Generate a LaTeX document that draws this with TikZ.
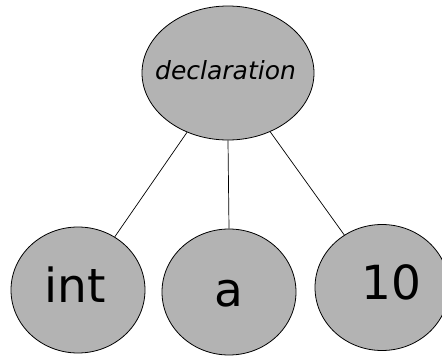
\documentclass[tikz,border=0pt]{standalone}
\usepackage{fontspec}
\setmainfont{DejaVu Sans}
\usetikzlibrary{shapes.geometric}
\definecolor{nodegrey}{HTML}{B3B3B3}
\tikzset{
  treenode/.style={ellipse, draw=black, line width=0.8pt, fill=nodegrey, inner sep=0pt},
  leaf/.style={treenode, minimum width=134pt, minimum height=126pt},
  label/.style={anchor=base, inner sep=0pt},
  edge/.style={draw=black, line width=0.7pt}
}
\begin{document}
\begin{tikzpicture}[x=1pt, y=-1pt]
  \useasboundingbox (0,0) rectangle (442,356);
  % tree nodes
  \node[treenode, minimum width=172pt, minimum height=134pt] (decl) at (228,73) {};
  \node[leaf] (int) at (78,290) {};
  \node[leaf] (a) at (229,292) {};
  \node[leaf] (ten) at (382,287.5) {};
  % edges from the root to each leaf
  \draw[edge] (decl) -- (int);
  \draw[edge] (decl.south) -- (a.north);
  \draw[edge] (decl) -- (ten);
  % labels
  \node[label, font=\fontsize{25}{30}\selectfont\itshape] (tdecl) at (225.5,79) {declaration};
  \node[label, font=\fontsize{47}{56}\selectfont] (tint) at (75,302) {int};
  \node[label, font=\fontsize{47}{56}\selectfont] (ta) at (229,306) {a};
  \node[label, font=\fontsize{47}{56}\selectfont] (tten) at (391.5,299) {10};
\end{tikzpicture}
\end{document}
